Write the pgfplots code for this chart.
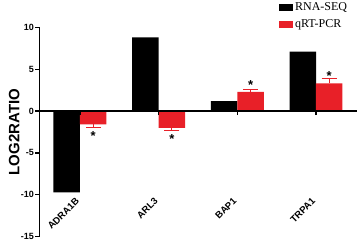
\documentclass[border=0pt]{standalone}
\usepackage{pgfplots}
\pgfplotsset{compat=1.18}
\usepackage{fontspec}
\setmainfont{Liberation Serif}
\newfontfamily\arial{Liberation Sans}
\usetikzlibrary{calc}
\definecolor{barred}{RGB}{232,32,40}
\begin{document}
\begin{tikzpicture}
\begin{axis}[
  scale only axis, width=317.4pt, height=209.4pt,
  xmin=-0.516, xmax=3.517, ymin=-15, ymax=10,
  axis y line*=left, axis x line*=middle,
  axis on top,
  ytick={-15,-10,-5,0,5,10},
  xtick={0,1,2,3}, xticklabels={ADRA1B,ARL3,BAP1,TRPA1},
  tick align=center, major tick length=4pt,
  axis line style={line width=1.2pt},
  x tick style={line width=1.2pt, black, yshift=-2pt},
  y tick style={line width=1.2pt, black, xshift=-2pt},
  /pgf/number format/assume math mode=true,
  yticklabel style={font=\arial\bfseries\fontsize{9}{10}\selectfont},
  xticklabel style={font=\arial\bfseries\fontsize{9.5}{10}\selectfont, yshift=-84pt, xshift=0pt, rotate=45, anchor=east},
  ylabel={LOG2RATIO},
  every axis y label/.style={at={(rel axis cs:0,0.5)}, xshift=-25pt, rotate=90, anchor=center, font=\arial\bfseries\fontsize{15}{16}\selectfont},
  legend style={at={(0.755,1.13)}, anchor=north west, draw=none, fill=none, inner sep=0pt, row sep=4pt, font=\fontsize{12}{13}\selectfont},
  legend cell align=left,
]
\addplot[ybar, bar width=26.5pt, bar shift=0pt, fill=black, draw=none,
  legend image code/.code={\fill[black] (0pt,-3.5pt) rectangle (14pt,3.5pt);}]
  coordinates {(-0.168,-9.7) (0.832,8.8) (1.832,1.2) (2.832,7.1)};
\addlegendentry{RNA-SEQ}
\addplot[ybar, bar width=26.5pt, bar shift=0pt, fill=barred, draw=none,
  error bars/.cd, y dir=plus, y explicit,
  error bar style={line width=1.2pt, barred},
  error mark options={rotate=90, mark size=7.5pt, line width=1.2pt, barred},
  /pgfplots/legend image code/.code={\fill[barred] (0pt,-3.5pt) rectangle (14pt,3.5pt);}]
  coordinates {(0.168,-1.6) +- (0,-0.4) (1.168,-2.0) +- (0,-0.3) (2.168,2.3) +- (0,0.25) (3.168,3.3) +- (0,0.6)};
\addlegendentry{qRT-PCR}
\addplot[only marks, mark=none, forget plot, nodes near coords={*},
  every node near coord/.style={anchor=center, font=\arial\bfseries\fontsize{13}{13}\selectfont}]
  coordinates {(0.168,-3.0) (1.168,-3.35) (2.168,3.1) (3.168,4.2)};
\end{axis}
\pgfresetboundingbox
\path ($(current axis.south west)+(-39.3pt,-4.3pt)$) rectangle ($(current axis.north east)+(1.3pt,27.3pt)$);
\end{tikzpicture}
\end{document}
